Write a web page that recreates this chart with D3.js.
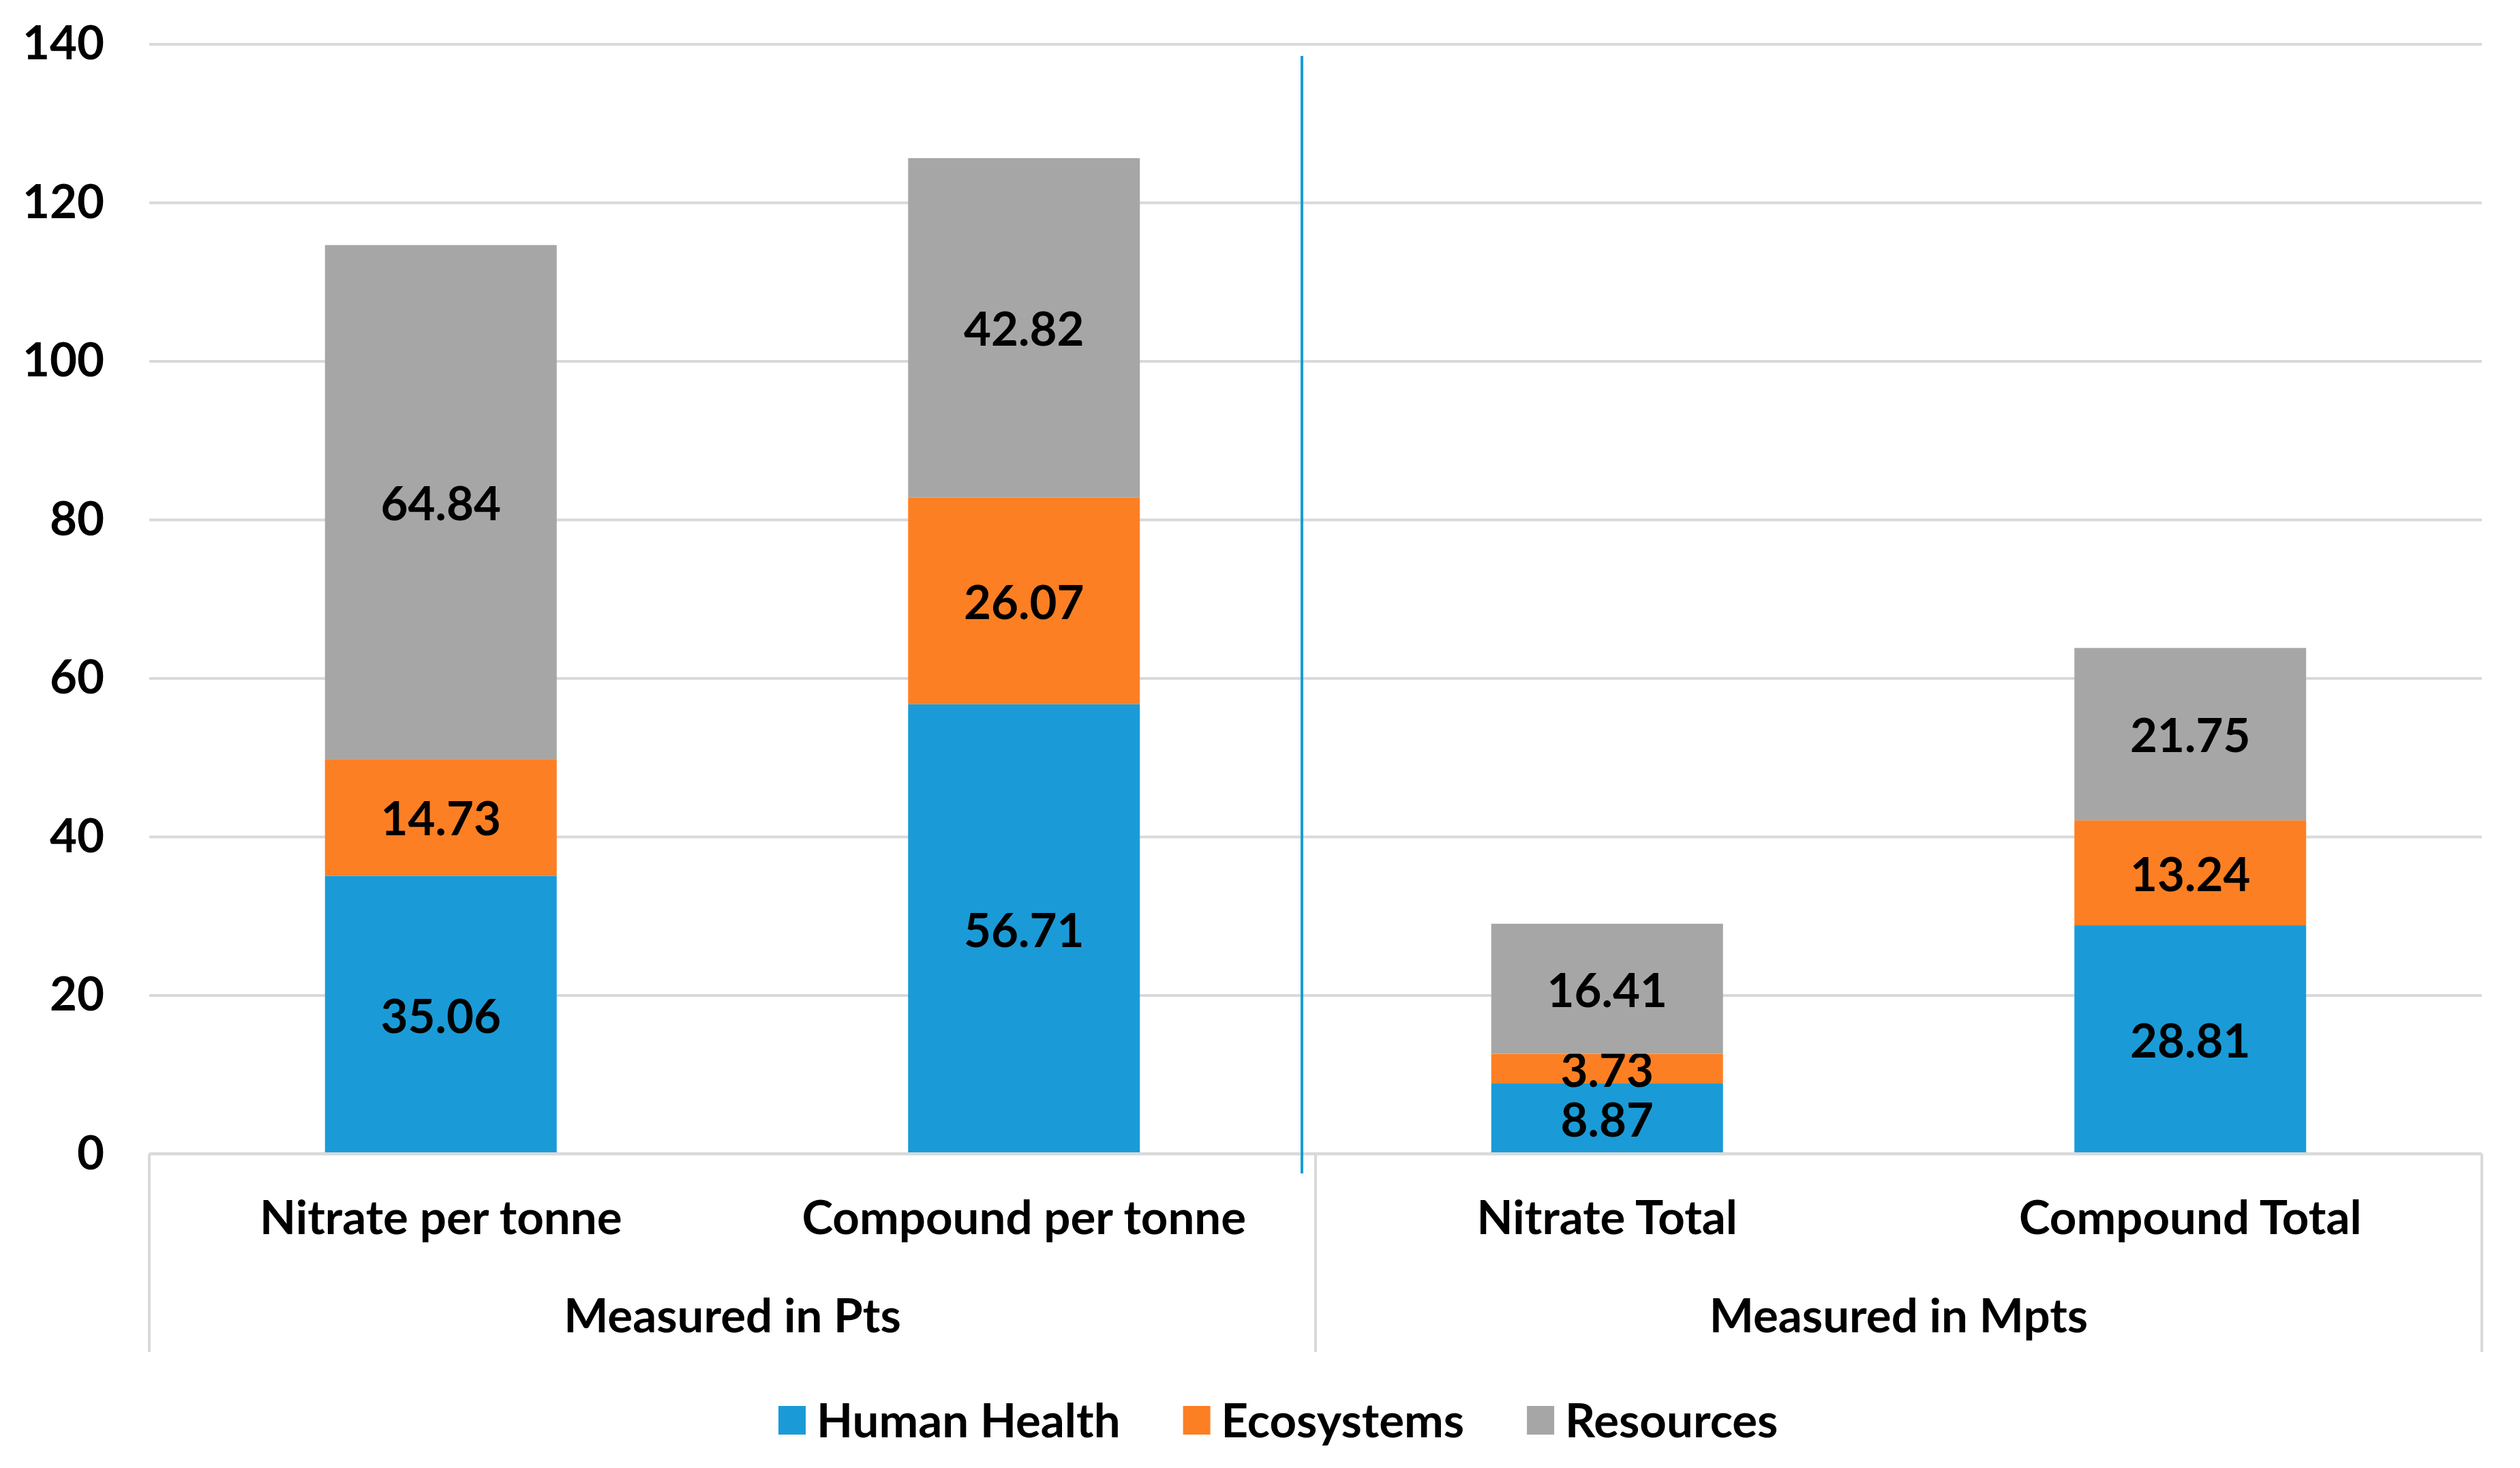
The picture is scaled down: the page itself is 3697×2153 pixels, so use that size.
<!DOCTYPE html>
<html>
<head>
<meta charset="utf-8">
<script src="https://cdn.jsdelivr.net/npm/d3@7"></script>
<style>
  body { margin: 0; background: #fff; }
  svg text { font-family: Lato, "Open Sans", sans-serif; font-weight: bold; fill: #000; }
</style>
</head>
<body>
<div id="chart"></div>
<script>
var categories = ["Nitrate per tonne", "Compound per tonne", "Nitrate Total", "Compound Total"];
var groups = ["Measured in Pts", "Measured in Mpts"];
var seriesNames = ["Human Health", "Ecosystems", "Resources"];
var humanHealth = [35.06, 56.71, 8.87, 28.81];
var ecosystems = [14.73, 26.07, 3.73, 13.24];
var resources = [64.84, 42.82, 16.41, 21.75];
var yTicks = [0, 20, 40, 60, 80, 100, 120, 140];

var colors = ["#1a9bd7", "#fd7f23", "#a6a6a6"];
var gridColor = "#d9d9d9";

var width = 3697;
var height = 2153;
var plotLeft = 219, plotRight = 3641, plotTop = 64.5, plotBottom = 1692;
var fontSize = 69;

var svg = d3.select("#chart")
            .append("svg")
            .attr("width", width)
            .attr("height", height);

var x = d3.scaleBand()
          .domain(categories)
          .range([plotLeft, plotRight])
          .paddingInner(0.6026)
          .paddingOuter(0.3013);

var y = d3.scaleLinear()
          .domain([0, 140])
          .range([plotBottom, plotTop]);

// gridlines + tick labels
var yAxis = svg.append("g")
               .attr("transform", "translate(" + plotLeft + ",0)")
               .call(d3.axisLeft(y).tickValues(yTicks).tickSize(-(plotRight - plotLeft)).tickPadding(66));
yAxis.select(".domain").remove();
yAxis.selectAll(".tick line").attr("stroke", gridColor).attr("stroke-width", 4);
yAxis.selectAll(".tick text")
     .attr("font-size", fontSize)
     .attr("font-family", "Lato")
     .attr("font-weight", "bold")
     .attr("fill", "#000");

// stacked data
var table = categories.map(function(c, i) {
  return { cat: c, "Human Health": humanHealth[i], "Ecosystems": ecosystems[i], "Resources": resources[i] };
});
var stacked = d3.stack().keys(seriesNames)(table);

var layers = svg.selectAll(".layer")
                .data(stacked)
                .enter()
                .append("g")
                .attr("class", "layer")
                .attr("fill", function(d, i) { return colors[i]; });

layers.selectAll("rect")
      .data(function(d) { return d; })
      .enter()
      .append("rect")
      .attr("x", function(d) { return x(d.data.cat); })
      .attr("width", x.bandwidth())
      .attr("y", function(d) { return y(d[1]); })
      .attr("height", function(d) { return y(d[0]) - y(d[1]); });

layers.selectAll(".val")
      .data(function(d) { return d.map(function(p) { return { p: p, key: d.key }; }); })
      .enter()
      .append("text")
      .attr("class", "val")
      .attr("x", function(d) { return x(d.p.data.cat) + x.bandwidth() / 2; })
      .attr("y", function(d) { return (y(d.p[0]) + y(d.p[1])) / 2; })
      .attr("text-anchor", "middle")
      .attr("dominant-baseline", "central")
      .attr("font-size", fontSize)
      .text(function(d) { return d.p.data[d.key].toFixed(2); });

// zero line and category box
var boxBottom = 1983;
svg.append("line")
   .attr("x1", plotLeft).attr("x2", plotRight)
   .attr("y1", y(0)).attr("y2", y(0))
   .attr("stroke", gridColor).attr("stroke-width", 4);

var mid = (plotLeft + plotRight) / 2;
svg.selectAll(".boxline")
   .data([plotLeft, mid, plotRight])
   .enter()
   .append("line")
   .attr("class", "boxline")
   .attr("x1", function(d) { return d; })
   .attr("x2", function(d) { return d; })
   .attr("y1", y(0))
   .attr("y2", boxBottom)
   .attr("stroke", gridColor)
   .attr("stroke-width", 4);

// category labels
svg.selectAll(".cat")
   .data(categories)
   .enter()
   .append("text")
   .attr("class", "cat")
   .attr("x", function(d) { return x(d) + x.bandwidth() / 2; })
   .attr("y", 1810)
   .attr("text-anchor", "middle")
   .attr("font-size", fontSize)
   .text(function(d) { return d; });

// group labels
svg.selectAll(".grp")
   .data(groups)
   .enter()
   .append("text")
   .attr("class", "grp")
   .attr("x", function(d, i) { return i == 0 ? (plotLeft + mid) / 2 : (mid + plotRight) / 2; })
   .attr("y", 1954)
   .attr("text-anchor", "middle")
   .attr("font-size", fontSize)
   .text(function(d) { return d; });

// blue divider between the two groups
var divX = (x(categories[1]) + x.bandwidth() + x(categories[2])) / 2 - 20;
svg.append("line")
   .attr("x1", divX).attr("x2", divX)
   .attr("y1", 82).attr("y2", 1721)
   .attr("stroke", colors[0]).attr("stroke-width", 4);

// legend
var legend = svg.append("g");
var lx = 1142;
seriesNames.forEach(function(name, i) {
  legend.append("rect")
        .attr("x", lx).attr("y", 2062)
        .attr("width", 40).attr("height", 42)
        .attr("fill", colors[i]);
  var t = legend.append("text")
                .attr("x", lx + 56)
                .attr("y", 2108)
                .attr("font-size", fontSize)
                .text(name);
  lx = lx + 56 + t.node().getComputedTextLength() + 92;
});
</script>
</body>
</html>
